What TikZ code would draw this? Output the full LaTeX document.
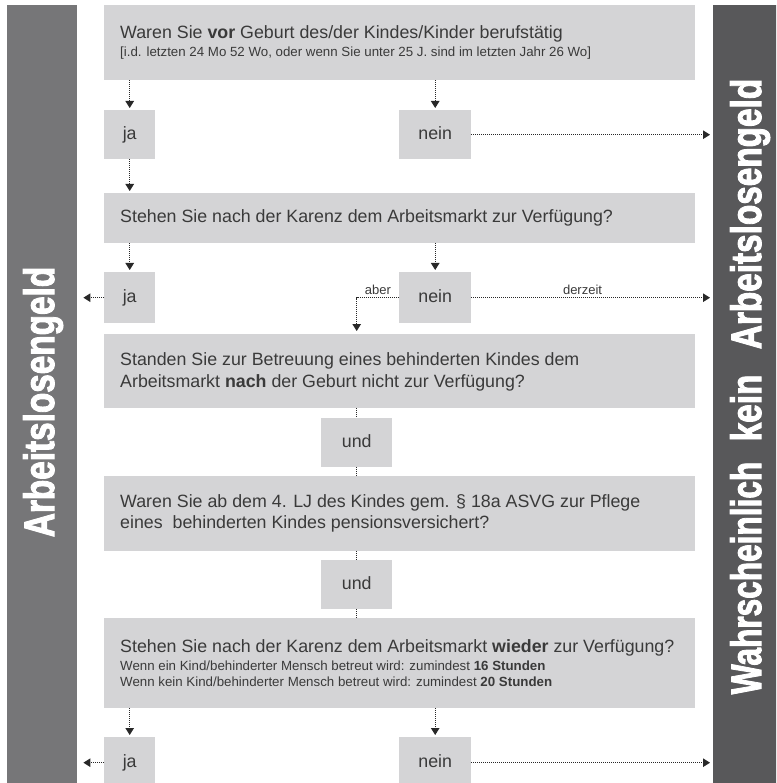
\documentclass[tikz,border=0pt]{standalone}
\usepackage{fontspec}
\setmainfont{Liberation Sans}
\newfontfamily\heavyfont{Liberation Sans}[BoldFeatures={FakeBold=2.6}]
\usetikzlibrary{arrows.meta}
\definecolor{boxgray}{RGB}{212,212,214}
\definecolor{lbarc}{RGB}{118,118,120}
\definecolor{rbarc}{RGB}{88,88,90}
\definecolor{txt}{RGB}{58,58,58}
\definecolor{arr}{RGB}{40,40,40}
\begin{document}
\begin{tikzpicture}[x=1pt,y=-1pt,
 box/.style={fill=boxgray, draw=none, anchor=north west, inner sep=0pt, text=txt,
   text height=13pt, text depth=4pt, font=\fontsize{17.8}{21}\selectfont},
 big/.style={anchor=base west, inner sep=0pt, text=txt, font=\fontsize{17.8}{21}\selectfont},
 small/.style={anchor=base west, inner sep=0pt, text=txt, font=\fontsize{13.3}{16}\selectfont},
 lbl/.style={inner sep=0pt, text=txt, font=\fontsize{13}{15}\selectfont},
 conn/.style={arr, dash pattern=on 1pt off 1pt, line width=1pt},
 tip/.style={-{Triangle[width=8.5pt,length=7pt]}},
 bar/.style={draw=none, anchor=north west, inner sep=0pt},
 vtext/.style={rotate=90, anchor=base, text=white, inner sep=0pt,
   font=\heavyfont\fontsize{34}{34}\selectfont\bfseries}
]
\useasboundingbox (0,0) rectangle (776,783);
\clip (0,0) rectangle (776,783);
\fill[white] (0,0) rectangle (776,783);

% side bars
\node[bar, fill=lbarc, minimum width=70pt, minimum height=790pt] (lbar) at (7,5) {};
\node[bar, fill=rbarc, minimum width=70pt, minimum height=790pt] (rbar) at (713,5) {};
\node[vtext] (lt) at (54,402) {\scalebox{0.98}[1.25]{Arbeitslosengeld}};
\node[vtext] (rt1) at (761,214) {\scalebox{0.98}[1.25]{Arbeitslosengeld}};
\node[vtext] (rt2) at (761,408) {\scalebox{0.98}[1.25]{kein}};
\node[vtext] (rt3) at (761,578) {\scalebox{0.93}[1.25]{Wahrscheinlich}};

% question boxes
\node[box, minimum width=591pt, minimum height=75pt] (q1) at (104,5) {};
\node[big] (t1a) at (120,39) {Waren Sie \textbf{vor} Geburt des/der Kindes/Kinder berufstätig};
\node[small] (t1b) at (120,57) {[i.d. letzten 24 Mo 52 Wo, oder wenn Sie unter 25 J. sind im letzten Jahr 26 Wo]};

\node[box, minimum width=51pt, minimum height=49pt] (ja1) at (104,110) {ja};
\node[box, minimum width=72pt, minimum height=49pt] (nein1) at (399,110) {nein};

\node[box, minimum width=591pt, minimum height=50pt] (q2) at (104,193) {};
\node[big] (t2) at (120,223) {Stehen Sie nach der Karenz dem Arbeitsmarkt zur Verfügung?};

\node[box, minimum width=51pt, minimum height=51pt] (ja2) at (104,272) {ja};
\node[box, minimum width=72pt, minimum height=51pt] (nein2) at (399,272) {nein};

\node[box, minimum width=591pt, minimum height=74pt] (q3) at (104,334) {};
\node[big] (t3a) at (120,365.5) {Standen Sie zur Betreuung eines behinderten Kindes dem};
\node[big] (t3b) at (120,387) {Arbeitsmarkt \textbf{nach} der Geburt nicht zur Verfügung?};

\node[box, minimum width=71pt, minimum height=49pt] (und1) at (321,418) {und};

\node[box, minimum width=591pt, minimum height=75pt] (q4) at (104,476) {};
\node[big] (t4a) at (120,507.5) {Waren Sie ab dem 4. LJ des Kindes gem. § 18a ASVG zur Pflege};
\node[big] (t4b) at (120,528) {eines\ \ behinderten Kindes pensionsversichert?};

\node[box, minimum width=71pt, minimum height=49pt] (und2) at (321,560) {und};

\node[box, minimum width=591pt, minimum height=90pt] (q5) at (104,618) {};
\node[big] (t5a) at (120,652) {Stehen Sie nach der Karenz dem Arbeitsmarkt \textbf{wieder} zur Verfügung?};
\node[small] (t5b) at (120,670) {Wenn ein Kind/behinderter Mensch betreut wird: zumindest \textbf{16 Stunden}};
\node[small] (t5c) at (120,686) {Wenn kein Kind/behinderter Mensch betreut wird: zumindest \textbf{20 Stunden}};

\node[box, minimum width=51pt, minimum height=51pt] (ja3) at (104,737) {ja};
\node[box, minimum width=72pt, minimum height=51pt] (nein3) at (399,737) {nein};

% connectors
\draw[conn,tip,shorten >=2pt] (ja1.north |- q1.south) -- (ja1.north);
\draw[conn,tip,shorten >=2pt] (nein1.north |- q1.south) -- (nein1.north);
\draw[conn,tip,shorten >=3pt] (nein1.east) -- (nein1.east -| rbar.west);
\draw[conn,tip,shorten >=2pt] (ja1.south) -- (ja1.south |- q2.north);

\draw[conn,tip,shorten >=2pt] (ja2.north |- q2.south) -- (ja2.north);
\draw[conn,tip,shorten >=2pt] (nein2.north |- q2.south) -- (nein2.north);
\draw[conn,tip,shorten >=6pt] (ja2.west) -- (ja2.west -| lbar.east);
\draw[conn,tip,shorten >=3pt] (nein2.east) -- node[lbl, above=3pt, pos=0.46] (derzeit) {derzeit} (nein2.east -| rbar.west);
\draw[conn,tip,shorten >=3pt] (nein2.west) -| node[lbl, above=3pt, pos=0.25] (aber) {aber} (und1.north |- q3.north);

\draw[conn] (und1.north |- q3.south) -- (und1.north);
\draw[conn] (und1.south) -- (und1.south |- q4.north);
\draw[conn] (und2.north |- q4.south) -- (und2.north);
\draw[conn] (und2.south) -- (und2.south |- q5.north);

\draw[conn,tip,shorten >=2pt] (ja3.north |- q5.south) -- (ja3.north);
\draw[conn,tip,shorten >=2pt] (nein3.north |- q5.south) -- (nein3.north);
\draw[conn,tip,shorten >=6pt] (ja3.west) -- (ja3.west -| lbar.east);
\draw[conn,tip,shorten >=3pt] (nein3.east) -- (nein3.east -| rbar.west);
\end{tikzpicture}
\end{document}
